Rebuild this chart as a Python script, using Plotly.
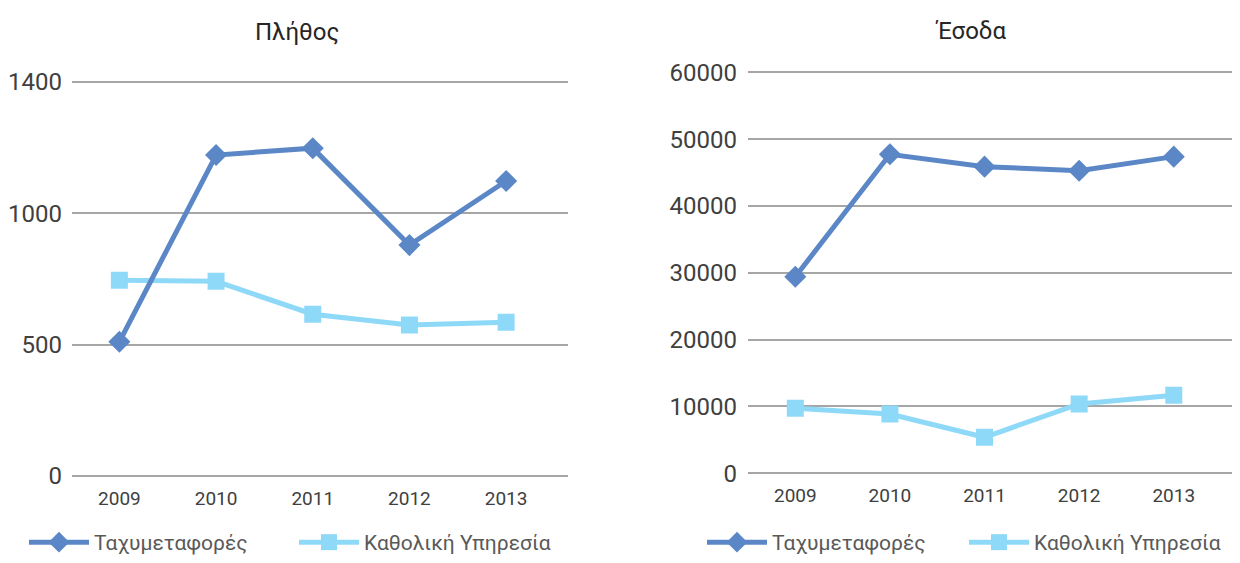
import plotly.graph_objects as go

years = ["2009", "2010", "2011", "2012", "2013"]
series_names = ["Ταχυμεταφορές", "Καθολική Υπηρεσία"]

# Πλήθος (count)
count_courier = [511, 1222, 1248, 879, 1123]
count_universal = [745, 741, 616, 575, 585]

# Έσοδα (revenue)
revenue_courier = [29420, 47730, 45880, 45280, 47380]
revenue_universal = [9730, 8870, 5390, 10370, 11670]

left_ticks = [0, 500, 1000, 1500]
left_ticktext = ["0", "500", "1000", "1400"]
right_ticks = [0, 10000, 20000, 30000, 40000, 50000, 60000]

titles = ["Πλήθος", "Έσοδα"]

C_DARK = "#5B87C7"
C_LIGHT = "#8FD9F8"
FONT = "Roboto"

# page body has an 8px margin; the figure fills the rest of the window
OFF = 8
W, H = 1240 - OFF, 563 - OFF

fig = go.Figure()

def add_pair(xaxis, yaxis, legend, courier, universal):
    fig.add_trace(go.Scatter(
        x=years, y=universal, name=series_names[1], mode="lines+markers",
        line=dict(color=C_LIGHT, width=5),
        marker=dict(symbol="square", size=17, color=C_LIGHT),
        xaxis=xaxis, yaxis=yaxis, legend=legend, legendrank=2,
    ))
    fig.add_trace(go.Scatter(
        x=years, y=courier, name=series_names[0], mode="lines+markers",
        line=dict(color=C_DARK, width=5),
        marker=dict(symbol="diamond", size=17, color=C_DARK),
        xaxis=xaxis, yaxis=yaxis, legend=legend, legendrank=1,
    ))

add_pair("x", "y", "legend", count_courier, count_universal)
add_pair("x2", "y2", "legend2", revenue_courier, revenue_universal)

def px_x(p):
    return (p - OFF) / W

def px_y(p):
    return 1 - (p - OFF) / H

tickfont = dict(family=FONT, size=24, color="#404040")
xtickfont = dict(family=FONT, size=19, color="#404040")

fig.update_layout(
    width=W, height=H,
    margin=dict(l=0, r=0, t=0, b=0, autoexpand=False),
    paper_bgcolor="white", plot_bgcolor="white",
    showlegend=True,
    xaxis=dict(domain=[px_x(72), px_x(568)], type="category", range=[-0.49, 4.64],
               showgrid=False, zeroline=False, showline=False, ticks="",
               tickfont=xtickfont, ticklabelstandoff=6, anchor="y"),
    yaxis=dict(domain=[px_y(479.15), px_y(78.85)], range=[-12, 1512],
               tickvals=left_ticks, ticktext=left_ticktext,
               showgrid=True, gridcolor="#A6A6A6", gridwidth=1.5,
               zeroline=False, showline=False, ticks="",
               tickfont=tickfont, ticklabelstandoff=9, anchor="x"),
    xaxis2=dict(domain=[px_x(748), 1.0], type="category", range=[-0.5, 4.7],
                showgrid=False, zeroline=False, showline=False, ticks="",
                tickfont=xtickfont, ticklabelstandoff=5, anchor="y2"),
    yaxis2=dict(domain=[px_y(476.64), px_y(68.96)], range=[-500, 60500],
                tickvals=right_ticks, tickformat="d",
                showgrid=True, gridcolor="#A6A6A6", gridwidth=1.5,
                zeroline=False, showline=False, ticks="",
                tickfont=tickfont, ticklabelstandoff=10, anchor="x2"),
    legend=dict(orientation="h", x=px_x(24), y=0, xanchor="left", yanchor="bottom",
                font=dict(family=FONT, size=21, color="#595959"),
                itemwidth=60, entrywidth=195, entrywidthmode="pixels",
                bgcolor="rgba(0,0,0,0)", itemclick=False),
    legend2=dict(orientation="h", x=px_x(702), y=0, xanchor="left", yanchor="bottom",
                 font=dict(family=FONT, size=21, color="#595959"),
                 itemwidth=60, entrywidth=187, entrywidthmode="pixels",
                 bgcolor="rgba(0,0,0,0)", itemclick=False),
    annotations=[
        dict(text=titles[0], x=px_x(297), y=px_y(32), xref="paper", yref="paper",
             xanchor="center", yanchor="middle", showarrow=False,
             font=dict(family=FONT, size=24, color="#262626")),
        dict(text=titles[1], x=px_x(970), y=px_y(31), xref="paper", yref="paper",
             xanchor="center", yanchor="middle", showarrow=False,
             font=dict(family=FONT, size=24, color="#262626")),
    ],
)

fig.write_html("out.html")
